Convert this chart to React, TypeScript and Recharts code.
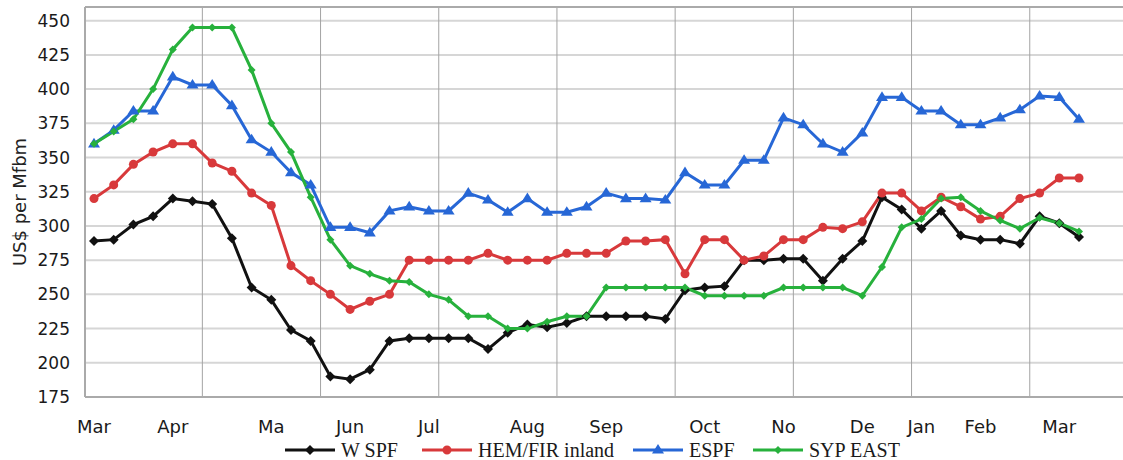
import React from 'react';
import {
  LineChart,
  Line,
  XAxis,
  YAxis,
  CartesianGrid,
  Legend,
  ReferenceLine,
  Label,
} from 'recharts';

// weekly prices, US$ per Mfbm (Mar .. Mar)
const wspf = [
  289, 290, 301, 307, 320, 318, 316, 291, 255, 246,
  224, 216, 190, 188, 195, 216, 218, 218, 218, 218,
  210, 222, 228, 226, 229, 234, 234, 234, 234, 232,
  253, 255, 256, 275, 275, 276, 276, 260, 276, 289,
  321, 312, 298, 311, 293, 290, 290, 287, 307, 302,
  292,
];
const hemFir = [
  320, 330, 345, 354, 360, 360, 346, 340, 324, 315,
  271, 260, 250, 239, 245, 250, 275, 275, 275, 275,
  280, 275, 275, 275, 280, 280, 280, 289, 289, 290,
  265, 290, 290, 275, 278, 290, 290, 299, 298, 303,
  324, 324, 311, 321, 314, 305, 307, 320, 324, 335,
  335,
];
const espf = [
  360, 370, 384, 384, 409, 403, 403, 388, 363, 354,
  339, 330, 299, 299, 295, 311, 314, 311, 311, 324,
  319, 310, 320, 310, 310, 314, 324, 320, 320, 319,
  339, 330, 330, 348, 348, 379, 374, 360, 354, 368,
  394, 394, 384, 384, 374, 374, 379, 385, 395, 394,
  378,
];
const sypEast = [
  360, 369, 378, 400, 429, 445, 445, 445, 414, 375,
  354, 321, 290, 271, 265, 260, 259, 250, 246, 234,
  234, 225, 225, 230, 234, 234, 255, 255, 255, 255,
  255, 249, 249, 249, 249, 255, 255, 255, 255, 249,
  270, 299, 305, 320, 321, 311, 304, 298, 306, 302,
  296,
];

// week index where each month label sits
const monthTickWeeks = [0, 4, 9, 13, 17, 22, 26, 31, 35, 39, 42, 45, 49];
const monthTickLabels = ['Mar', 'Apr', 'Ma', 'Jun', 'Jul', 'Aug', 'Sep', 'Oct', 'No', 'De', 'Jan', 'Feb', 'Mar'];
const yTicks = [175, 200, 225, 250, 275, 300, 325, 350, 375, 400, 425, 450];
const Y_MAX = 460;

const W = 1123;
const H = 460;
const PAD_L = 9;
const PAD_R = 44;

const data = wspf.map((v, i) => ({
  week: i,
  wspf: v,
  hemFir: hemFir[i],
  espf: espf[i],
  sypEast: sypEast[i],
}));

const SERIES = [
  { key: 'wspf', name: 'W SPF', color: '#111111', shape: 'diamond', size: 5 },
  { key: 'hemFir', name: 'HEM/FIR inland', color: '#d8393b', shape: 'circle', size: 4.5 },
  { key: 'espf', name: 'ESPF', color: '#2767d6', shape: 'triangle', size: 6 },
  { key: 'sypEast', name: 'SYP EAST', color: '#27b13c', shape: 'diamond', size: 4 },
];

function markerPath(shape: string, cx: number, cy: number, s: number) {
  if (shape === 'diamond') return `M${cx},${cy - s}L${cx + s},${cy}L${cx},${cy + s}L${cx - s},${cy}Z`;
  if (shape === 'triangle') return `M${cx},${cy - s}L${cx + s},${cy + s * 0.6}L${cx - s},${cy + s * 0.6}Z`;
  return `M${cx - s},${cy}a${s},${s} 0 1,0 ${s * 2},0a${s},${s} 0 1,0 ${-s * 2},0`;
}

const makeDot = (shape: string, color: string, size: number) => (props: any) => {
  const { cx, cy, index } = props;
  if (cx == null || cy == null) return <g key={index} />;
  return <path key={index} d={markerPath(shape, cx, cy, size)} fill={color} />;
};

// vertical grid every 6 weeks, between the points
const verticalLines = ({ offset }: any) => {
  const step = (offset.width - PAD_L - PAD_R) / (data.length - 1);
  const out: number[] = [];
  for (let i = 6; i < data.length; i += 6) out.push(offset.left + PAD_L + step * (i - 0.5));
  return out;
};

const legendItemWidth = [137, 211, 120, 200];

const renderLegend = () => (
  <div
    style={{
      boxSizing: 'border-box',
      height: 24,
      width: W,
      paddingTop: 4,
      paddingLeft: 285,
      display: 'flex',
      alignItems: 'center',
    }}
  >
    {SERIES.map((s, i) => (
      <div
        key={s.key}
        style={{
          width: legendItemWidth[i],
          flex: 'none',
          display: 'flex',
          alignItems: 'center',
          whiteSpace: 'nowrap',
        }}
      >
        <svg width={50} height={14} style={{ display: 'block', flex: 'none' }}>
          <line x1={0} y1={7} x2={50} y2={7} stroke={s.color} strokeWidth={3} />
          <path d={markerPath(s.shape, 25, 7, s.size)} fill={s.color} />
        </svg>
        <span
          style={{
            marginLeft: 6,
            fontFamily: '"Liberation Serif", serif',
            fontSize: 20,
            lineHeight: '20px',
            color: '#1a1a1a',
          }}
        >
          {s.name}
        </span>
      </div>
    ))}
  </div>
);

const renderYLabel = (props: any) => {
  const vb = props.viewBox || { x: 0, y: 7, height: 390 };
  const x = vb.x + 19;
  const y = vb.y + vb.height / 2;
  return (
    <text
      x={x}
      y={y}
      transform={`rotate(-90, ${x}, ${y})`}
      textAnchor="middle"
      dominantBaseline="central"
      fontFamily="DejaVu Sans"
      fontSize={18}
      fill="#222"
    >
      US$ per Mfbm
    </text>
  );
};

export default function App() {
  return (
    <div style={{ position: 'absolute', left: 0, top: 0, width: W, height: H, background: '#fff' }}>
      <LineChart width={W} height={H} data={data} margin={{ top: 7, right: 0, bottom: 0, left: 0 }}>
        <CartesianGrid vertical={false} stroke="#d6d6d6" strokeWidth={2} />
        <CartesianGrid horizontal={false} stroke="#a3a3a3" strokeWidth={1} verticalCoordinatesGenerator={verticalLines} />
        <XAxis
          dataKey="week"
          type="category"
          interval={0}
          height={39}
          padding={{ left: PAD_L, right: PAD_R }}
          tickLine={false}
          tickMargin={17}
          axisLine={{ stroke: '#aaaaaa', strokeWidth: 2 }}
          tick={{ fill: '#1a1a1a', fontSize: 18, fontFamily: 'DejaVu Sans' }}
          tickFormatter={(v) => {
            const k = monthTickWeeks.indexOf(Number(v));
            return k >= 0 ? monthTickLabels[k] : '';
          }}
        />
        <YAxis
          type="number"
          domain={[175, Y_MAX]}
          ticks={yTicks}
          interval={0}
          width={85}
          tickLine={false}
          tickMargin={9}
          axisLine={{ stroke: '#aaaaaa', strokeWidth: 2 }}
          tick={{ fill: '#1a1a1a', fontSize: 17, fontFamily: 'DejaVu Sans' }}
          label={<Label content={renderYLabel} />}
        />
        <ReferenceLine y={Y_MAX} stroke="#aaaaaa" strokeWidth={2} />
        <Legend verticalAlign="bottom" content={renderLegend} wrapperStyle={{ left: 0 }} />
        {SERIES.map((s) => (
          <Line
            key={s.key}
            type="linear"
            dataKey={s.key}
            name={s.name}
            stroke={s.color}
            strokeWidth={3}
            dot={makeDot(s.shape, s.color, s.size)}
            activeDot={false}
            isAnimationActive={false}
          />
        ))}
      </LineChart>
    </div>
  );
}
